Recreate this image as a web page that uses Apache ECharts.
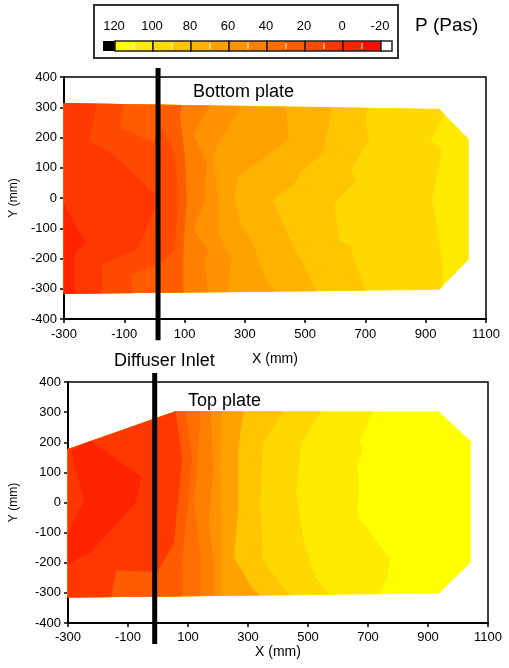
<!DOCTYPE html>
<html>
<head>
<meta charset="utf-8">
<script src="https://cdn.jsdelivr.net/npm/echarts@6/dist/echarts.min.js"></script>
<style>
  html, body { margin: 0; padding: 0; background: #fff; }
  #chart { width: 509px; height: 668px; }
</style>
</head>
<body>
<div id="chart"></div>
<script>
const FONT = "'Liberation Sans', Arial, sans-serif"

// colour bands, 120..110 first, down to -10..-20
const palette = ['#FFFF00', '#FFEB00', '#FFD800', '#FFC500', '#FFB200', '#FFA200', '#FF9200',
  '#FF8000', '#FF6E00', '#FF5C00', '#FF4A00', '#FF3700', '#FF2300', '#FF0C00']
const legendLabels = ['120', '100', '80', '60', '40', '20', '0', '-20']

// ---- bottom plate (upper chart), x/y in mm, P in Pa ----
const bottomOutline = [[-300, 312], [945, 293], [1042, 194], [1042, -203], [945, -302], [-300, -315]]
const bottomBaseLevel = 110
const bottomLeftEdge = [[-300, -315], [-300, 312]]
const bottomLevels = [100, 90, 80, 70, 60, 50, 30, 20, 10]
const bottomContours = [
  [[945, 293], [962, 276], [915, 191], [954, 158], [921, -7], [932, -62], [954, -205], [955, -292], [945, -302]],
  [[706, 297], [700, 252], [711, 191], [651, 92], [667, 59], [596, -18], [612, -140], [650, -160], [662, -205], [700, -305]],
  [[584, 298], [579, 246], [557, 147], [486, 90], [464, 48], [390, -7], [430, -95], [464, -172], [486, -205], [535, -307]],
  [[436, 300], [444, 191], [320, 103], [276, 70], [265, -7], [287, -95], [320, -139], [342, -194], [364, -260], [397, -308]],
  [[287, 302], [216, 191], [194, 136], [210, -7], [210, -117], [254, -205], [243, -309]],
  [[183, 304], [128, 213], [172, 114], [166, -7], [128, -106], [177, -172], [166, -216], [177, -310]],
  [[89, 306], [84, 268], [100, 136], [106, -7], [95, -172], [95, -311]],
  [[-104, 309], [-115, 233], [0, 180], [15, 250], [40, 200], [67, 147], [78, -7], [67, -172], [17, -216], [-76, -253], [-76, -313]],
  [[-192, 310], [-219, 187], [-153, 154], [-54, 66], [0, 12], [0, -33], [-54, -165], [-175, -220], [-175, -314]],
]
const bottomIslandLevels = [0]
const bottomIslands = [
  [[-300, -20], [-232, -146], [-266, -188], [-266, -315], [-300, -315]],
]
const bottomInletX = 12

// ---- top plate (lower chart) ----
const topOutline = [[-300, 176], [58, 301], [936, 301], [1042, 203], [1042, -198], [936, -301], [-300, -314]]
const topBaseLevel = 120
const topLeftEdge = [[-300, -314], [-300, 176], [58, 301]]
const topLevels = [110, 100, 90, 70, 60, 50, 40, 30, 10]
const topContours = [
  [[714, 301], [670, 201], [681, 179], [664, 118], [670, 52], [664, -47], [692, -80], [774, -191], [763, -246], [736, -303]],
  [[543, 301], [477, 201], [460, 30], [482, -113], [521, -246], [570, -305]],
  [[416, 301], [350, 201], [339, -3], [350, -196], [438, -306]],
  [[284, 301], [267, 185], [267, -25], [251, -180], [317, -290], [339, -307]],
  [[212, 301], [207, 108], [212, -113], [212, -308]],
  [[174, 301], [185, 108], [168, -69], [185, -180], [185, -308]],
  [[141, 301], [130, 119], [119, -3], [141, -180], [141, -309]],
  [[91, 301], [113, 141], [97, -25], [80, -180], [80, -310]],
  [[58, 301], [80, 146], [52, -135], [-3, -230], [-140, -224], [-157, -312]],
]
const topIslandLevels = [0]
const topIslands = [
  [[-223, 203], [-58, 85], [-74, 2], [-228, -169], [-267, -185], [-300, -207], [-300, -102], [-245, 8], [-290, 170]],
]
const topInletX = -11

function buildRegions(outline, baseLevel, edge, levels, contours, islandLevels, islands) {
  const polys = [outline]
  const lv = [baseLevel]
  contours.forEach((c, i) => {
    polys.push(c.concat(edge))
    lv.push(levels[i])
  })
  islands.forEach((p, i) => {
    polys.push(p)
    lv.push(islandLevels[i])
  })
  return { polys, lv }
}

function plateSeries(idx, reg) {
  return {
    type: 'custom',
    xAxisIndex: idx,
    yAxisIndex: idx,
    silent: true,
    data: reg.polys.map((p, i) => [p[0][0], p[0][1], i]),
    renderItem: (params, api) => {
      const pts = reg.polys[params.dataIndex].map((p) => api.coord(p))
      const c = palette[(120 - reg.lv[params.dataIndex]) / 10]
      return { type: 'polygon', shape: { points: pts }, style: { fill: c, stroke: c, lineWidth: 0.6 } }
    },
  }
}

function inletSeries(idx, x) {
  return {
    type: 'line',
    xAxisIndex: idx,
    yAxisIndex: idx,
    data: [[x, 430], [x, -470]],
    symbol: 'none',
    clip: false,
    silent: true,
    z: 10,
    lineStyle: { color: '#000', width: 5 },
  }
}

function xAxis(idx, margin, gap) {
  return {
    gridIndex: idx,
    type: 'value',
    min: -300,
    max: 1100,
    interval: 200,
    name: 'X (mm)',
    nameLocation: 'middle',
    nameGap: gap,
    nameTextStyle: { color: '#000', fontSize: 14, fontFamily: FONT },
    axisLine: { onZero: false, lineStyle: { color: '#000', width: 2 } },
    axisTick: { length: 4, lineStyle: { color: '#000', width: 1.5 } },
    axisLabel: { color: '#000', fontSize: 13, fontFamily: FONT, margin: margin, formatter: (v) => String(v) },
    splitLine: { show: false },
  }
}

function yAxis(idx, gap) {
  return {
    gridIndex: idx,
    type: 'value',
    min: -400,
    max: 400,
    interval: 100,
    name: 'Y (mm)',
    nameLocation: 'middle',
    nameGap: gap,
    nameTextStyle: { color: '#000', fontSize: 12, fontFamily: FONT },
    axisLine: { onZero: false, lineStyle: { color: '#000', width: 2 } },
    axisTick: { length: 4, lineStyle: { color: '#000', width: 1.5 } },
    axisLabel: { color: '#000', fontSize: 13, fontFamily: FONT, margin: 7 },
    splitLine: { show: false },
  }
}

// colour bar legend
const legend = [
  { type: 'rect', shape: { x: 94, y: 5, width: 304, height: 53 }, style: { fill: '#fff', stroke: '#333', lineWidth: 2 } },
  { type: 'rect', shape: { x: 103, y: 41, width: 12, height: 10 }, style: { fill: '#000' } },
]
for (let j = 0; j < 7; j++) {
  const x0 = 115 + 38 * j
  legend.push({ type: 'rect', shape: { x: x0, y: 41, width: 19, height: 10 }, style: { fill: palette[2 * j] } })
  legend.push({ type: 'rect', shape: { x: x0 + 19, y: 41, width: 19, height: 10 }, style: { fill: palette[2 * j + 1] } })
  legend.push({ type: 'line', shape: { x1: x0 + 19, y1: 43, x2: x0 + 19, y2: 49 }, style: { stroke: '#fff', lineWidth: 1 } })
  legend.push({ type: 'rect', shape: { x: x0, y: 41, width: 38, height: 10 }, style: { fill: null, stroke: '#222', lineWidth: 1.5 } })
}
legend.push({ type: 'rect', shape: { x: 381, y: 41, width: 11, height: 10 }, style: { fill: '#fff', stroke: '#222', lineWidth: 1.5 } })
legendLabels.forEach((t, i) => {
  legend.push({ type: 'text', x: 114 + 38 * i, y: 26, style: { text: t, font: '13px ' + FONT, fill: '#000', textAlign: 'center', textVerticalAlign: 'middle' } })
})

const texts = [
  { type: 'text', x: 415, y: 26, style: { text: 'P (Pas)', font: '19px ' + FONT, fill: '#000', textVerticalAlign: 'middle' } },
  { type: 'text', x: 193, y: 92, style: { text: 'Bottom plate', font: '18px ' + FONT, fill: '#000', textVerticalAlign: 'middle' } },
  { type: 'text', x: 188, y: 401, style: { text: 'Top plate', font: '18px ' + FONT, fill: '#000', textVerticalAlign: 'middle' } },
  { type: 'text', x: 114, y: 361, style: { text: 'Diffuser Inlet', font: '18px ' + FONT, fill: '#000', textVerticalAlign: 'middle' } },
]

const bottomReg = buildRegions(bottomOutline, bottomBaseLevel, bottomLeftEdge, bottomLevels, bottomContours, bottomIslandLevels, bottomIslands)
const topReg = buildRegions(topOutline, topBaseLevel, topLeftEdge, topLevels, topContours, topIslandLevels, topIslands)

const chart = echarts.init(document.getElementById('chart'))
chart.setOption({
  animation: false,
  backgroundColor: '#fff',
  grid: [
    { left: 62, top: 77, width: 424, height: 242, show: true, borderColor: '#000', borderWidth: 1.5, backgroundColor: 'transparent' },
    { left: 67, top: 382, width: 421, height: 241, show: true, borderColor: '#000', borderWidth: 1.5, backgroundColor: 'transparent' },
  ],
  xAxis: [xAxis(0, 9, 33), xAxis(1, 8, 21)],
  yAxis: [yAxis(0, 44), yAxis(1, 48)],
  graphic: legend.concat(texts),
  series: [
    plateSeries(0, bottomReg),
    plateSeries(1, topReg),
    inletSeries(0, bottomInletX),
    inletSeries(1, topInletX),
  ],
})
</script>
</body>
</html>
